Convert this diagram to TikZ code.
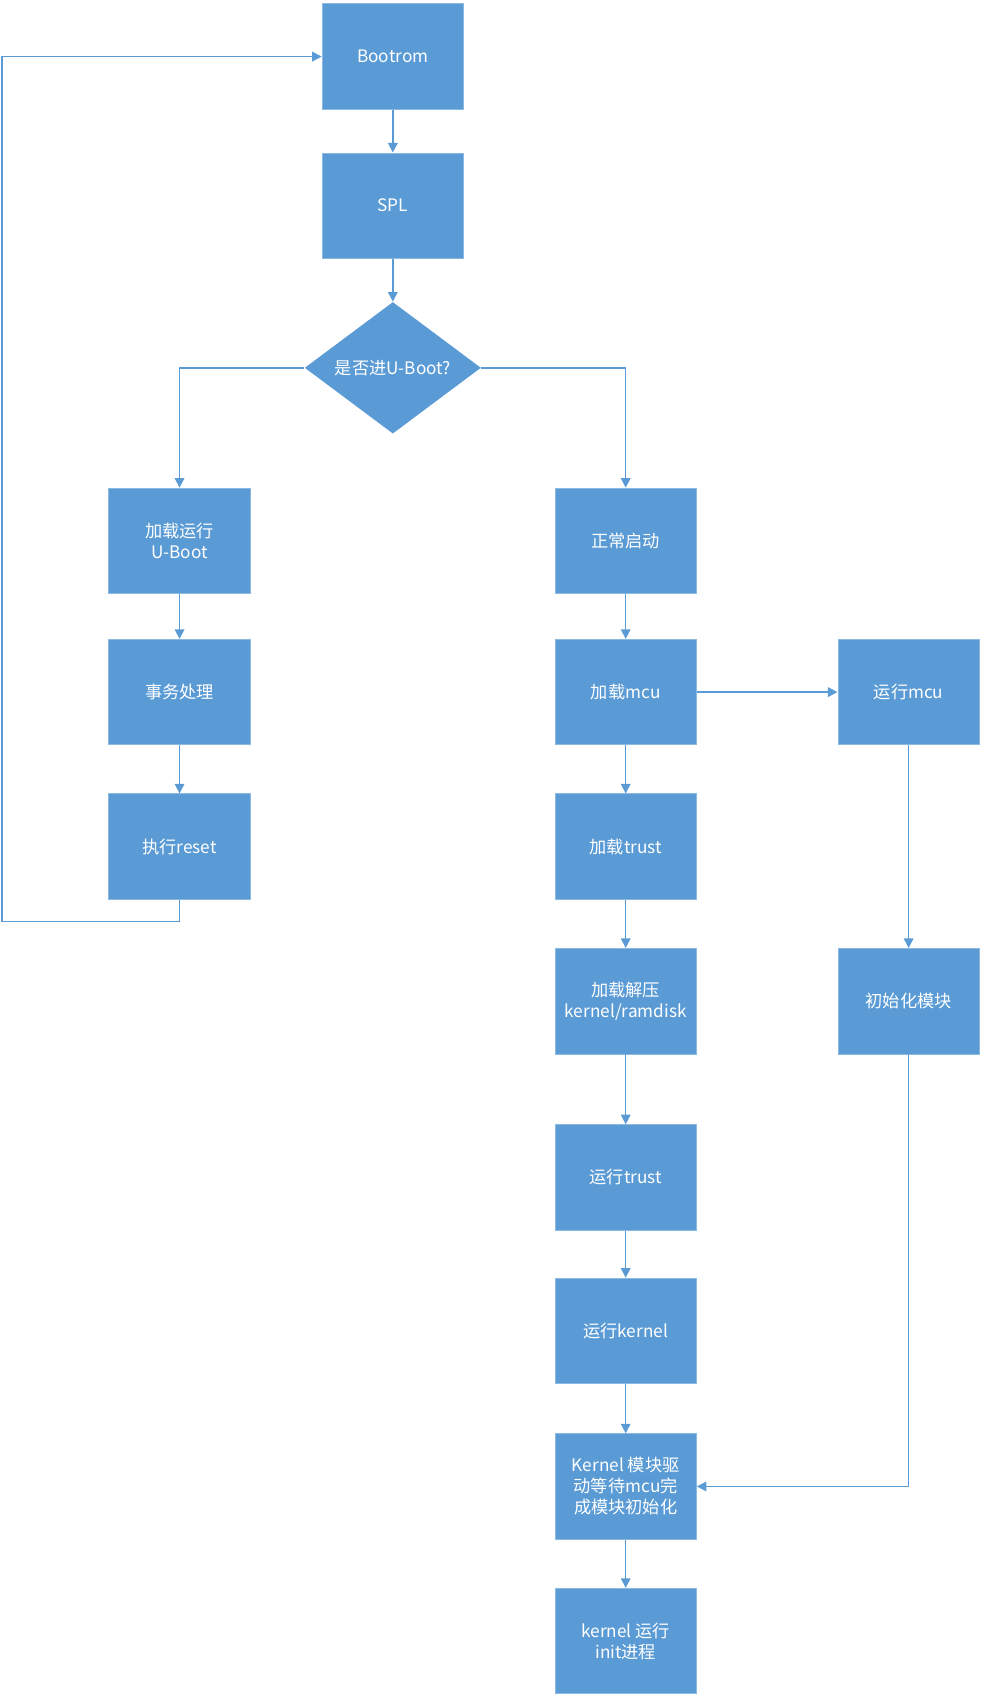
\documentclass[tikz,border=0pt]{standalone}
\usepackage{fontspec}
\setmainfont{Noto Sans CJK SC}
\usetikzlibrary{shapes.geometric,arrows.meta}
\definecolor{boxblue}{HTML}{5B9BD5}
\definecolor{lineblue}{HTML}{5B9BD5}
\begin{document}
\begin{tikzpicture}[x=0.02cm,y=-0.02cm,
    proc/.style={rectangle, fill=boxblue, draw=boxblue!70!white, text=white,
      minimum width=2.6cm, minimum height=1.94cm, align=center,
      font=\fontsize{9}{11}\selectfont, inner sep=1pt},
    test/.style={diamond, fill=boxblue, text=white, minimum width=3.24cm,
      minimum height=2.42cm, inner sep=0pt, font=\fontsize{9}{11}\selectfont},
    flow/.style={draw=lineblue, line width=0.8pt, -{Triangle[length=5pt,width=5pt]}}]
  \useasboundingbox (0,0) rectangle (905,1565);

  % main chain
  \node[proc] (boot) at (361,52) {Bootrom};
  \node[proc] (spl) at (361,189) {SPL};
  \node[test] (ask) at (361,338) {是否进U-Boot?};

  % u-boot branch
  \node[proc] (uboot) at (165,497) {加载运行\\U-Boot};
  \node[proc] (task) at (165,636) {事务处理};
  \node[proc] (reset) at (165,778) {执行reset};

  % normal branch
  \node[proc] (normal) at (575,497) {正常启动};
  \node[proc] (loadmcu) at (575,636) {加载mcu};
  \node[proc] (loadtrust) at (575,778) {加载trust};
  \node[proc] (unpack) at (575,920) {加载解压\\kernel/ramdisk};
  \node[proc] (runtrust) at (575,1082) {运行trust};
  \node[proc] (runkernel) at (575,1223) {运行kernel};
  \node[proc] (wait) at (575,1366) {Kernel 模块驱\\动等待mcu完\\成模块初始化};
  \node[proc] (init) at (575,1508) {kernel 运行\\init进程};

  % mcu branch
  \node[proc] (runmcu) at (835,636) {运行mcu};
  \node[proc] (modinit) at (835,920) {初始化模块};

  \draw[flow] (boot) -- (spl);
  \draw[flow] (spl) -- (ask);
  \draw[flow] (ask.west) -| (uboot.north);
  \draw[flow] (ask.east) -| (normal.north);
  \draw[flow] (uboot) -- (task);
  \draw[flow] (task) -- (reset);
  \draw[flow] (reset.south) -- ++(0,20) -| (2,52) -- (boot.west);
  \foreach \a/\b in {normal/loadmcu,loadmcu/loadtrust,loadtrust/unpack,
      unpack/runtrust,runtrust/runkernel,runkernel/wait,wait/init}
    \draw[flow] (\a) -- (\b);
  \draw[flow] (loadmcu) -- (runmcu);
  \draw[flow] (runmcu) -- (modinit);
  \draw[flow] (modinit.south) |- (wait.east);
\end{tikzpicture}
\end{document}
